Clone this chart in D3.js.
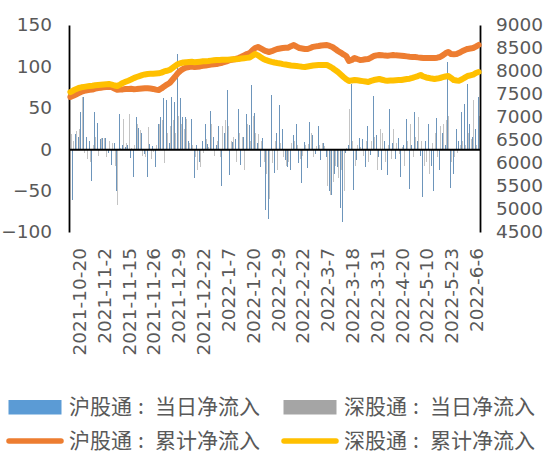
<!DOCTYPE html>
<html><head><meta charset="utf-8">
<script src="https://cdn.jsdelivr.net/npm/d3@7/dist/d3.min.js"></script>
<style>body{margin:0;background:#fff}svg{display:block}</style>
</head><body><svg id="c" width="547" height="456"></svg>
<script>
const dates = [
"2021-10-20","2021-10-21","2021-10-22","2021-10-25","2021-10-26","2021-10-27","2021-10-28","2021-10-29",
"2021-11-1","2021-11-2","2021-11-3","2021-11-4","2021-11-5","2021-11-8","2021-11-9","2021-11-10","2021-11-11","2021-11-12","2021-11-15","2021-11-16","2021-11-17","2021-11-18","2021-11-19","2021-11-22","2021-11-23","2021-11-24","2021-11-25","2021-11-26","2021-11-29","2021-11-30",
"2021-12-1","2021-12-2","2021-12-3","2021-12-6","2021-12-7","2021-12-8","2021-12-9","2021-12-10","2021-12-13","2021-12-14","2021-12-15","2021-12-16","2021-12-17","2021-12-20","2021-12-21","2021-12-22","2021-12-23","2021-12-28","2021-12-29","2021-12-30","2021-12-31",
"2022-1-4","2022-1-5","2022-1-6","2022-1-7","2022-1-10","2022-1-11","2022-1-12","2022-1-13","2022-1-14","2022-1-17","2022-1-18","2022-1-19","2022-1-20","2022-1-21","2022-1-24","2022-1-25","2022-1-26","2022-1-27","2022-1-28",
"2022-2-7","2022-2-8","2022-2-9","2022-2-10","2022-2-11","2022-2-14","2022-2-15","2022-2-16","2022-2-17","2022-2-18","2022-2-21","2022-2-22","2022-2-23","2022-2-24","2022-2-25","2022-2-28",
"2022-3-1","2022-3-2","2022-3-3","2022-3-4","2022-3-7","2022-3-8","2022-3-9","2022-3-10","2022-3-11","2022-3-14","2022-3-15","2022-3-16","2022-3-17","2022-3-18","2022-3-21","2022-3-22","2022-3-23","2022-3-24","2022-3-25","2022-3-28","2022-3-29","2022-3-30","2022-3-31",
"2022-4-1","2022-4-6","2022-4-7","2022-4-8","2022-4-11","2022-4-12","2022-4-13","2022-4-19","2022-4-20","2022-4-21","2022-4-22","2022-4-25","2022-4-26","2022-4-27","2022-4-28","2022-4-29",
"2022-5-5","2022-5-10","2022-5-11","2022-5-12","2022-5-13","2022-5-16","2022-5-17","2022-5-18","2022-5-19","2022-5-20","2022-5-23","2022-5-24","2022-5-25","2022-5-26","2022-5-27","2022-5-30","2022-5-31",
"2022-6-1","2022-6-2","2022-6-6","2022-6-7","2022-6-8","2022-6-9","2022-6-10"];

const tickLabels = ["2021-10-20","2021-11-2","2021-11-15","2021-11-26","2021-12-9","2021-12-22","2022-1-7","2022-1-20","2022-2-9","2022-2-22","2022-3-7","2022-3-18","2022-3-31","2022-4-20","2022-5-10","2022-5-23","2022-6-6"];

// 沪股通:当日净流入 (left axis)
const shDaily = [
22,-61,18,15,45,63,15,10,-39,45,32,12,13,13,-5,-19,8,-51,43,5,3,5,-11,-33,39,26,19,-6,-33,
6,
4,-21,30,39,62,60,8,63,57,115,62,39,39,10,37,-35,5,-15,10,31,6,46,15,5,28,-44,20,71,-31,
9,
12,48,-19,15,43,29,78,44,8,-21,13,-73,-84,66,-29,20,53,24,-13,-21,-25,17,30,-17,-41,9,-23,33,17,
-6,
28,-13,7,-10,-51,-55,-30,-22,-71,-88,-5,5,79,-49,-13,13,12,-21,28,-7,64,17,-10,-25,10,-31,49,8,-12,
14,
-34,5,36,-48,5,45,10,-8,-58,10,31,-20,-51,38,-25,20,5,105,-47,-30,25,10,45,55,79,
30,
15,25,63];

// 深股通:当日净流入 (left axis)
const szDaily = [
18,10,22,25,63,-5,-12,-15,5,15,-8,13,13,-10,10,8,-20,-67,2,37,8,42,2,5,30,23,-8,-10,27,
-12,
-3,5,31,35,-17,20,28,35,20,40,30,25,37,8,5,-10,-25,-22,-5,12,3,30,-8,10,-10,28,35,28,10,
15,
-15,20,15,-25,30,10,40,20,18,10,-15,-30,-60,-17,10,-25,8,-10,-20,-15,8,10,5,-12,-8,5,6,20,-10,
4,
5,8,4,-45,-55,-40,-20,-35,-25,-50,2,48,10,-20,5,3,-8,10,-15,10,15,-25,25,20,-15,5,-12,25,8,
-6,
3,-20,10,30,-10,15,39,10,-20,-15,-30,8,20,-10,28,30,35,40,-15,-10,-5,5,10,5,20,
12,
60,5,40];

// 沪股通:累计净流入 (right axis)
const shCum = [
7435,7460,7490,7520,7550,7570,7580,7590,7598,7615,7630,7637,7645,7650,7655,7652,7620,7590,7595,7600,7610,7609,7612,7605,7609,7615,7620,7625,7624,
7618,
7610,7595,7587,7620,7665,7705,7739,7810,7880,7957,8010,8050,8075,8087,8095,8085,8093,8100,8112,8120,8130,8140,8148,8152,8165,8180,8200,8217,8240,
8250,
8262,8283,8310,8340,8370,8391,8450,8500,8522,8490,8457,8430,8413,8430,8455,8478,8490,8500,8505,8507,8540,8565,8530,8500,8490,8480,8478,8500,8525,
8535,
8543,8555,8560,8565,8545,8522,8480,8435,8400,8360,8326,8217,8239,8283,8260,8239,8245,8255,8261,8290,8326,8340,8348,8345,8335,8333,8340,8348,8340,
8336,
8333,8325,8318,8311,8306,8304,8296,8290,8285,8283,8283,8280,8283,8290,8304,8340,8385,8413,8370,8365,8370,8395,8430,8457,8480,
8490,
8500,8530,8565];

// 深股通:累计净流入 (right axis)
const szCum = [
7543,7575,7605,7630,7645,7655,7665,7674,7680,7690,7696,7702,7708,7712,7717,7705,7685,7674,7705,7740,7765,7789,7815,7845,7870,7890,7910,7925,7935,
7938,
7940,7945,7950,7965,7990,8005,8022,8065,8110,8152,8170,8185,8192,8196,8200,8190,8196,8203,8210,8214,8217,8225,8232,8239,8240,8244,8245,8246,8250,
8253,
8256,8261,8270,8278,8285,8293,8330,8370,8340,8300,8261,8235,8217,8200,8185,8174,8165,8150,8140,8130,8120,8115,8109,8100,8092,8087,8098,8109,8120,
8125,
8130,8132,8130,8130,8100,8065,8020,7978,7925,7870,7820,7783,7795,7804,7798,7789,7780,7770,7761,7785,7804,7815,7826,7810,7795,7789,7792,7796,7800,
7802,
7804,7815,7825,7833,7850,7870,7890,7913,7880,7860,7848,7835,7826,7835,7848,7865,7880,7891,7850,7804,7795,7789,7820,7855,7891,
7905,
7920,7957,7978];

const leftTicks = [150,100,50,0,-50,-100];
const rightTicks = [9000,8500,8000,7500,7000,6500,6000,5500,5000,4500];
const seriesNames = ["沪股通","深股通"];
const seriesKinds = ["当日净流入","累计净流入"];

const svg = d3.select("#c");
const textColor = "#595959";
const numFont = "DejaVu Sans";

const x = d3.scaleBand().domain(dates).range([69, 480]).padding(0);
const yL = d3.scaleLinear().domain([-100, 150]).range([232, 25]);
const yR = d3.scaleLinear().domain([4500, 9000]).range([232, 25]);
const bw = x.bandwidth();
const barW = 1;

// bars
const gBars = svg.append("g").attr("shape-rendering", "crispEdges");
gBars.selectAll("rect.sh").data(dates).join("rect")
  .attr("x", d => x(d) + bw/2 - barW)
  .attr("width", barW)
  .attr("y", (d,i) => Math.min(yL(shDaily[i]), yL(0)))
  .attr("height", (d,i) => Math.abs(yL(shDaily[i]) - yL(0)))
  .attr("fill", "#6d95bb");
gBars.selectAll("rect.sz").data(dates).join("rect")
  .attr("x", d => x(d) + bw/2 + 0.2)
  .attr("width", barW)
  .attr("y", (d,i) => Math.min(yL(szDaily[i]), yL(0)))
  .attr("height", (d,i) => Math.abs(yL(szDaily[i]) - yL(0)))
  .attr("fill", "#c4c4c4");

// left axis
const gL = svg.append("g").attr("transform", "translate(69,0)")
  .call(d3.axisLeft(yL).tickValues(leftTicks).tickSize(0).tickPadding(17).tickFormat(d3.format("d")));
gL.select(".domain").attr("stroke", "#000").attr("stroke-width", 1.8);
gL.selectAll("text").attr("fill", textColor).attr("font-family", numFont).attr("font-size", "18.5px");

// right axis
const gR = svg.append("g").attr("transform", "translate(480,0)")
  .call(d3.axisRight(yR).tickValues(rightTicks).tickSize(0).tickPadding(16).tickFormat(d3.format("d")));
gR.select(".domain").attr("stroke", "#000").attr("stroke-width", 1.8);
gR.selectAll("text").attr("fill", textColor).attr("font-family", numFont).attr("font-size", "18.5px");

// zero line (category axis line)
const gZ = svg.append("g").attr("transform", `translate(0,${yL(0)})`)
  .call(d3.axisBottom(x).tickValues([]).tickSize(0).tickSizeOuter(0));
gZ.select(".domain").attr("stroke", "#000").attr("stroke-width", 2);

// category labels at bottom
const gX = svg.append("g").attr("transform", "translate(0,248)")
  .call(d3.axisBottom(x).tickValues(tickLabels).tickSize(0));
gX.select(".domain").remove();
gX.selectAll("text")
  .attr("transform", "rotate(-90)")
  .attr("x", 0).attr("y", 8.9).attr("dy", "0.36em")
  .attr("text-anchor", "end")
  .attr("fill", textColor).attr("font-family", numFont).attr("font-size", "18.5px");

// cumulative lines
const line = d3.line().x((d,i) => x(dates[i]) + bw/2).y(d => yR(d)).curve(d3.curveLinear);
svg.append("path").datum(shCum).attr("d", line)
  .attr("fill", "none").attr("stroke", "#ed7d31").attr("stroke-width", 6)
  .attr("stroke-linejoin", "round").attr("stroke-linecap", "round");
svg.append("path").datum(szCum).attr("d", line)
  .attr("fill", "none").attr("stroke", "#ffc000").attr("stroke-width", 6)
  .attr("stroke-linejoin", "round").attr("stroke-linecap", "round");

// legend
const legend = [
  {name: seriesNames[0], kind: seriesKinds[0], color: "#5b9bd5", type: "rect", x: 8, cy: 407},
  {name: seriesNames[1], kind: seriesKinds[0], color: "#a5a5a5", type: "rect", x: 283, cy: 407},
  {name: seriesNames[0], kind: seriesKinds[1], color: "#ed7d31", type: "line", x: 8, cy: 441},
  {name: seriesNames[1], kind: seriesKinds[1], color: "#ffc000", type: "line", x: 283, cy: 441}
];
const lg = svg.append("g");
legend.forEach(it => {
  if (it.type === "rect") {
    lg.append("rect").attr("x", it.x + 0.5).attr("y", it.cy - 7).attr("width", 53).attr("height", 14.5).attr("fill", it.color);
  } else {
    lg.append("line").attr("x1", it.x + 1).attr("x2", it.x + 53).attr("y1", it.cy).attr("y2", it.cy)
      .attr("stroke", it.color).attr("stroke-width", 5.5).attr("stroke-linecap", "round");
  }
  const t = lg.append("text").attr("y", it.cy + 7.4)
    .attr("fill", textColor).attr("font-family", "Noto Sans CJK SC").attr("font-size", "21px");
  const x0 = it.x + 61;
  t.append("tspan").attr("x", x0).text(it.name);
  t.append("tspan").attr("x", x0 + 69).text(":");
  t.append("tspan").attr("x", x0 + 86).text(it.kind);
});
</script>
</body></html>
